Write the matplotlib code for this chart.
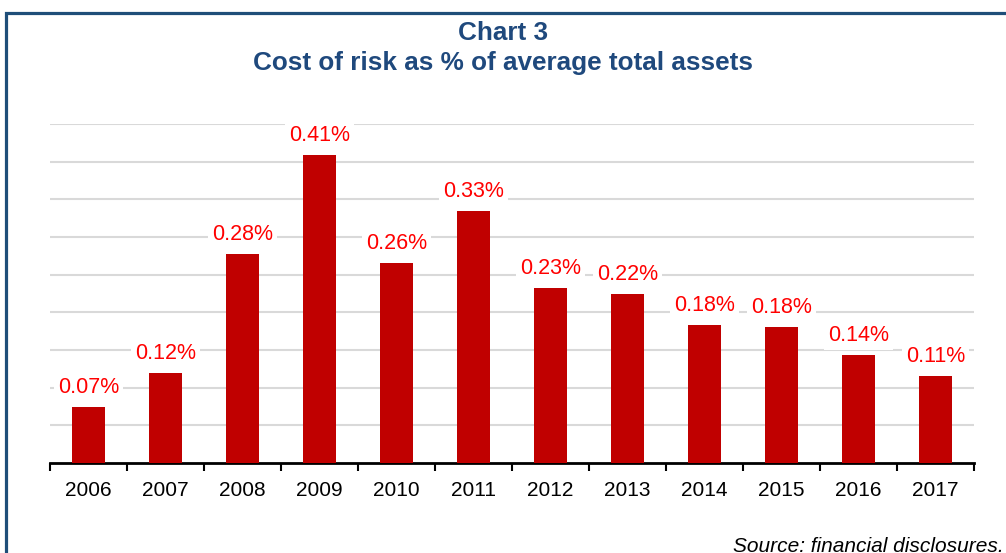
import matplotlib.pyplot as plt
from matplotlib.patches import Rectangle
import numpy as np

plt.rcParams['font.family'] = ['Liberation Sans', 'DejaVu Sans']

years = ['2006', '2007', '2008', '2009', '2010', '2011',
         '2012', '2013', '2014', '2015', '2016', '2017']
cost_of_risk = [0.07, 0.12, 0.28, 0.41, 0.26, 0.33,
                0.23, 0.22, 0.18, 0.18, 0.14, 0.11]
# bar heights as drawn (label values are rounded)
bar_heights = [0.074, 0.119, 0.278, 0.409, 0.266, 0.334,
               0.232, 0.224, 0.183, 0.181, 0.143, 0.116]

fig = plt.figure(figsize=(10.06, 5.53), dpi=100)
ax = fig.add_axes([50 / 1006, 1 - 463 / 553, 924 / 1006, 339 / 553])

# frame round the whole chart, running off the right and bottom edge
fig.patches.append(Rectangle((6 / 1006, -0.05), 1.05, 1 - 13 / 553 + 0.05,
                             transform=fig.transFigure, fill=False,
                             edgecolor='#1F4E79', linewidth=2.3, zorder=0))

x = np.arange(len(years))
ax.bar(x, bar_heights, width=0.42, color='#C00000', zorder=3)

for xi, h, v in zip(x, bar_heights, cost_of_risk):
    ax.text(xi, h + 0.012, f'{v:.2f}%', ha='center', va='bottom',
            fontsize=15.5, color='#FF0000', zorder=4,
            bbox=dict(facecolor='white', edgecolor='none', pad=3))

ax.set_xlim(-0.5, len(years) - 0.5)
ax.set_ylim(0, 0.45)
ax.set_yticks(np.arange(0.05, 0.451, 0.05))
ax.yaxis.grid(True, color='#D9D9D9', linewidth=1.5, zorder=0)
ax.set_axisbelow(True)
ax.tick_params(axis='y', left=False, labelleft=False)

ax.set_xticks(x)
ax.set_xticklabels(years, fontsize=15)
ax.tick_params(axis='x', which='major', length=0, pad=13)
ax.set_xticks(np.arange(-0.5, len(years), 1), minor=True)
ax.tick_params(axis='x', which='minor', length=6, width=1.5, direction='out')

for side in ['left', 'right', 'top']:
    ax.spines[side].set_visible(False)
ax.spines['bottom'].set_linewidth(2)

fig.text(0.5, 1 - 33 / 553, 'Chart 3', ha='center', va='center',
         fontsize=18.8, fontweight='bold', color='#1F497D')
fig.text(0.5, 1 - 63 / 553, 'Cost of risk as % of average total assets',
         ha='center', va='center', fontsize=18.8, fontweight='bold', color='#1F497D')
fig.text(1004 / 1006, 1 - 546 / 553, 'Source: financial disclosures.',
         ha='right', va='center', fontsize=15, style='italic')

fig.savefig('out.png', dpi=100)
